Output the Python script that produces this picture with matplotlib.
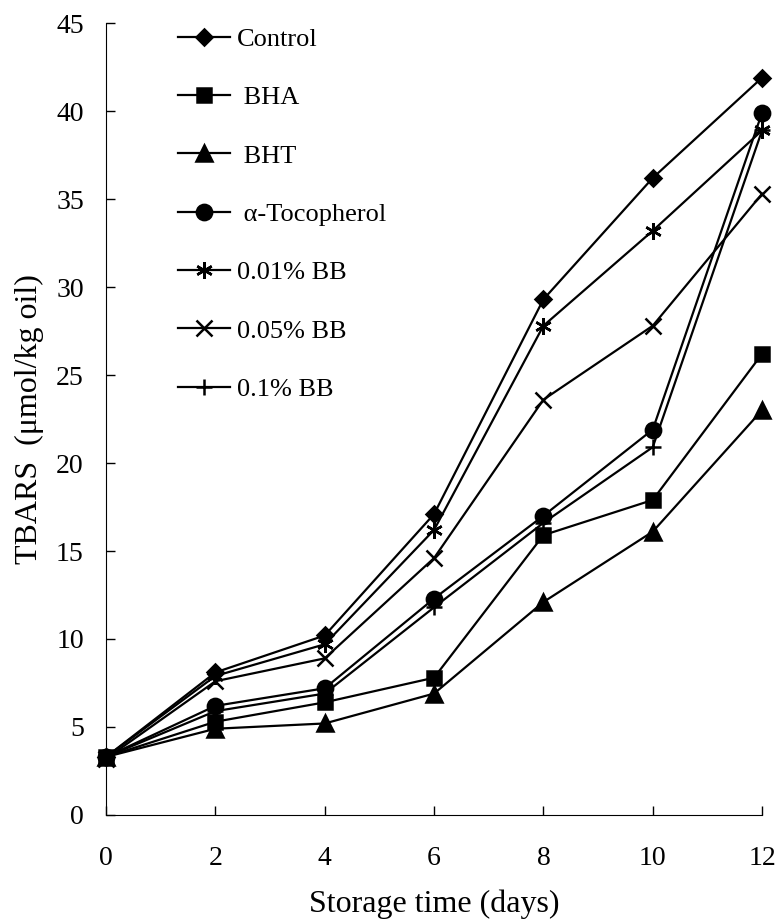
import matplotlib
matplotlib.use("Agg")
import matplotlib.pyplot as plt

plt.rcParams['font.family'] = ['Liberation Serif', 'DejaVu Serif']

# storage days
days = [0, 2, 4, 6, 8, 10, 12]

# TBARS values (umol/kg oil)
control = [3.3, 8.1, 10.2, 17.1, 29.3, 36.2, 41.9]
bha = [3.3, 5.3, 6.4, 7.8, 15.9, 17.9, 26.2]
bht = [3.3, 4.9, 5.2, 6.9, 12.1, 16.1, 23.0]
tocopherol = [3.3, 6.2, 7.2, 12.3, 17.0, 21.9, 39.9]
bb_001 = [3.3, 7.9, 9.7, 16.2, 27.8, 33.2, 38.9]
bb_005 = [3.2, 7.6, 8.9, 14.6, 23.6, 27.8, 35.3]
bb_01 = [3.3, 5.9, 6.9, 11.8, 16.6, 20.9, 38.9]

series = [
    (control, 'D', 'Control', 8.5),
    (bha, 's', ' BHA', 10),
    (bht, '^', ' BHT', 11),
    (tocopherol, 'o', ' \u03b1-Tocopherol', 11),
    (bb_001, (6, 2, 0), '0.01% BB', 12),
    (bb_005, 'x', '0.05% BB', 11),
    (bb_01, '+', '0.1% BB', 12),
]

fig = plt.figure(figsize=(7.8, 9.24), dpi=100)
ax = fig.add_axes([0.136, 0.118, 0.841, 0.857])

for vals, mk, lab, ms in series:
    ax.plot(days, vals, color='black', linewidth=1.6, marker=mk, markersize=ms,
            markeredgewidth=1.8, markerfacecolor='black', markeredgecolor='black',
            label=lab, clip_on=False)

ax.set_xlim(0, 12)
ax.set_ylim(0, 45)
ax.set_xticks(range(0, 13, 2))
ax.set_yticks(range(0, 46, 5))
ax.tick_params(direction='in', length=6.5, width=1, labelsize=20)
ax.tick_params(axis='y', pad=16)
ax.tick_params(axis='x', pad=22)
for s in ['top', 'right']:
    ax.spines[s].set_visible(False)

ax.set_xlabel('Storage time (days)', fontsize=23, labelpad=14)
ax.set_ylabel('TBARS  (\u03bcmol/kg oil)', fontsize=23, labelpad=9)

ax.legend(loc='upper left', bbox_to_anchor=(0.089, 1.011), frameon=False,
          fontsize=19, handlelength=2.0, handletextpad=0.25,
          labelspacing=1.32, borderpad=0)

fig.savefig('out.png', dpi=100)
